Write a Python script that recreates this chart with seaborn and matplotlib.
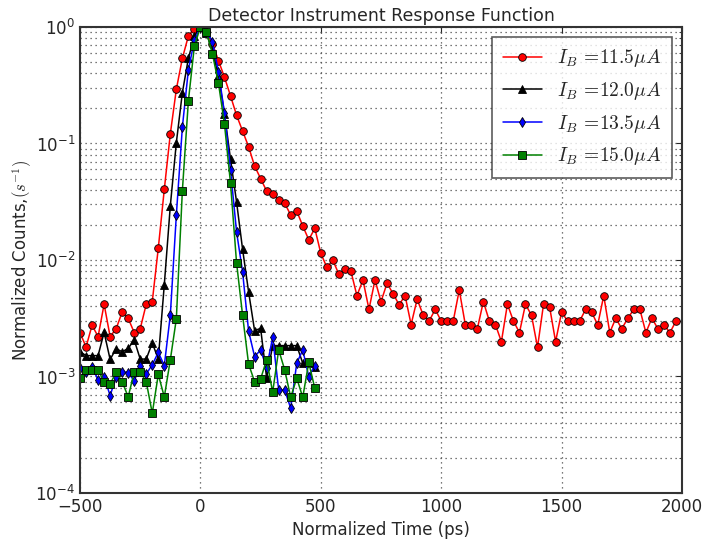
import numpy as np
import pandas as pd
import seaborn as sns
import matplotlib
matplotlib.use("Agg")
import matplotlib.pyplot as plt
from matplotlib.ticker import LogLocator, NullFormatter

# time bins (ps)
time_long = list(range(-500, 2000, 25))
time_short = list(range(-500, 500, 25))

counts_115 = [0.00238, 0.00179, 0.00275, 0.0022, 0.00417, 0.0022, 0.00257, 0.00357, 0.00316, 0.00238,
              0.00257, 0.00417, 0.00439, 0.0126, 0.0404, 0.121, 0.292, 0.538, 0.837, 0.97,
              1.0, 0.90, 0.72, 0.514, 0.370, 0.256, 0.175, 0.128, 0.094, 0.064,
              0.050, 0.039, 0.037, 0.0327, 0.0307, 0.0243, 0.0263, 0.0196, 0.0149, 0.0187,
              0.0114, 0.00865, 0.00994, 0.00754, 0.00832, 0.0080, 0.00494, 0.00673, 0.00377, 0.00673,
              0.00439, 0.00631, 0.00514, 0.00413, 0.00494, 0.00279, 0.0046, 0.00337, 0.00299, 0.00377,
              0.00299, 0.00299, 0.00299, 0.00552, 0.00279, 0.00279, 0.00256, 0.00439, 0.00299, 0.00279,
              0.00199, 0.00417, 0.00299, 0.00238, 0.00417, 0.00335, 0.00178, 0.00417, 0.00397, 0.00199,
              0.00356, 0.00299, 0.00299, 0.00299, 0.00377, 0.00356, 0.00277, 0.00494, 0.00238, 0.00316,
              0.00257, 0.00316, 0.00377, 0.00377, 0.00238, 0.00316, 0.00257, 0.00277, 0.00238, 0.00299]

counts_120 = [0.00163, 0.00151, 0.00151, 0.00151, 0.00239, 0.0014, 0.00173, 0.00163, 0.00174, 0.00206,
              0.00141, 0.00141, 0.00194, 0.00141, 0.00614, 0.0292, 0.1016, 0.273, 0.538, 0.837,
              1.0, 0.88, 0.62, 0.38, 0.18, 0.0732, 0.0316, 0.0124, 0.00534, 0.00247,
              0.00259, 0.00097, 0.00184, 0.00184, 0.00184, 0.00184, 0.00184, 0.0013, 0.0013, 0.0012]

counts_135 = [0.001175, 0.0011, 0.00121, 0.000933, 0.000996, 0.000684, 0.000996, 0.0011, 0.00108, 0.000915,
              0.00124, 0.00105, 0.00126, 0.00161, 0.00124, 0.00337, 0.0243, 0.138, 0.428, 0.77,
              1.0, 0.91, 0.75, 0.413, 0.182, 0.0593, 0.0175, 0.00794, 0.00246, 0.00148,
              0.00169, 0.00118, 0.00217, 0.000766, 0.000766, 0.000533, 0.0013, 0.00169, 0.000996, 0.00124]

counts_150 = [0.000966, 0.00114, 0.00114, 0.00114, 0.000902, 0.000859, 0.00109, 0.000902, 0.000667, 0.00109,
              0.00109, 0.000902, 0.000483, 0.00104, 0.000667, 0.00139, 0.00312, 0.0393, 0.232, 0.687,
              1.0, 0.91, 0.586, 0.329, 0.146, 0.0455, 0.0095, 0.00337, 0.00128, 0.000902,
              0.000952, 0.00139, 0.000732, 0.00169, 0.00114, 0.000663, 0.000966, 0.000663, 0.00132, 0.000792]

labels = [r'$I_B\,=\!11.5\mu A$', r'$I_B\,=\!12.0\mu A$', r'$I_B\,=\!13.5\mu A$', r'$I_B\,=\!15.0\mu A$']
colors = ['red', 'black', 'blue', 'green']
markers = ['o', '^', 'd', 's']

sns.set_style("white")
plt.rcParams['font.family'] = ['DejaVu Sans']
plt.rcParams['mathtext.fontset'] = 'cm'

fig = plt.figure(figsize=(7.02, 5.45), dpi=100)
ax = fig.add_axes([0.114, 0.0955, 0.8575, 0.855])

series = [(time_long, counts_115), (time_short, counts_120), (time_short, counts_135), (time_short, counts_150)]
for (t, c), lab, col, mk in zip(series, labels, colors, markers):
    df = pd.DataFrame({"t": t, "c": c})
    sns.lineplot(data=df, x="t", y="c", ax=ax, color=col, marker=mk, label=lab,
                 markersize=5.5, markeredgecolor='k', markeredgewidth=0.6,
                 linewidth=1.1, sort=False, estimator=None)

ax.set_yscale('log')
ax.set_xlim(-500, 2000)
ax.set_ylim(1e-4, 1)
ax.yaxis.set_minor_locator(LogLocator(base=10, subs=np.arange(2, 10)))
ax.yaxis.set_minor_formatter(NullFormatter())

grid_style = dict(linestyle=(0, (1, 3)), color='0.3', linewidth=0.9)
ax.grid(True, which='major', axis='both', **grid_style)
ax.grid(True, which='minor', axis='y', **grid_style)
ax.set_axisbelow(True)

ax.tick_params(which='both', direction='in', top=True, right=True, labelsize=12)
ax.tick_params(which='major', length=4)
ax.tick_params(which='minor', length=2)
for s in ax.spines.values():
    s.set_linewidth(1.5)
    s.set_color('#333333')

ax.set_title('Detector Instrument Response Function', fontsize=12.5, pad=4)
ax.set_xlabel('Normalized Time (ps)', fontsize=12)
ax.set_ylabel(r'Normalized Counts,$(s^{-1})$', fontsize=12, labelpad=1)

leg = ax.legend(loc='upper right', fontsize=14, frameon=True, fancybox=False,
                borderpad=0.55, labelspacing=0.55, handlelength=2.0)
leg.get_frame().set_edgecolor('#333333')
leg.get_frame().set_linewidth(1.2)

fig.savefig('out.png', dpi=100)
